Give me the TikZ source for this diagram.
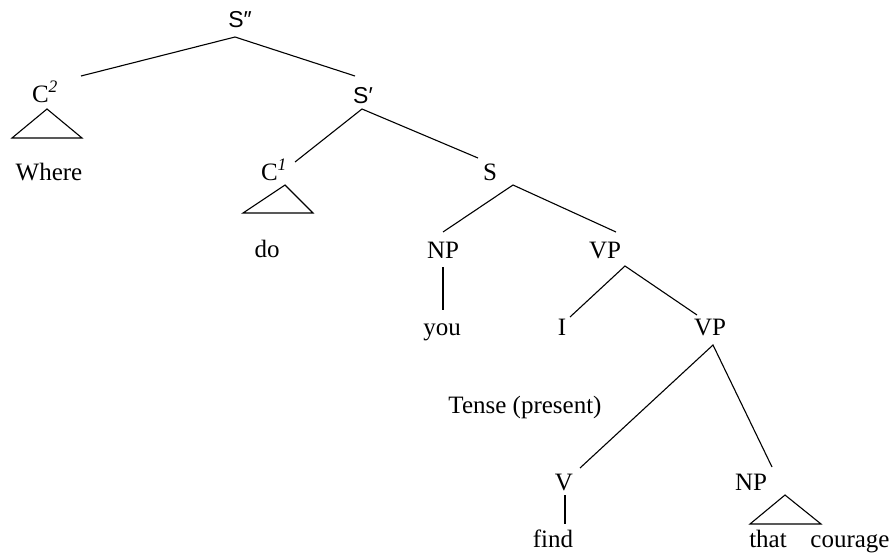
\documentclass[tikz,border=0pt]{standalone}
\usepackage{fontspec}
\setmainfont{Liberation Serif}
\newfontfamily\sansS{Liberation Sans}
\usepackage{tikz}

\begin{document}
\begin{tikzpicture}[x=1pt, y=1pt, line width=1.1pt,
    lbl/.style={anchor=base, inner sep=0pt, font=\fontsize{25}{30}\selectfont},
    slbl/.style={anchor=base, inner sep=0pt, font=\fontsize{23}{27}\selectfont\sansS}]
    \useasboundingbox (0, 0) rectangle (894, -552);

    \node [slbl] (Spp) at (240, -27) {S″};
    \node [lbl] (C2) at (45, -102) {C\textsuperscript{\itshape 2}};
    \node [lbl] (where) at (49, -180) {Where};
    \node [slbl] (Sp) at (363, -103) {S′};
    \node [lbl] (C1) at (274, -180) {C\textsuperscript{\itshape 1}};
    \node [lbl] (do) at (267, -257) {do};
    \node [lbl] (S) at (490, -180) {S};
    \node [lbl] (NP) at (443, -258) {NP};
    \node [lbl] (VP) at (605, -258) {VP};
    \node [lbl] (you) at (442, -335) {you};
    \node [lbl] (I) at (562, -335) {I};
    \node [lbl] (VPb) at (710, -335) {VP};
    \node [lbl] (tense) at (525, -413) {Tense (present)};
    \node [lbl] (V) at (564, -490) {V};
    \node [lbl] (NPb) at (751, -490) {NP};
    \node [lbl] (find) at (553, -547) {find};
    \node [lbl] (that) at (768, -547) {that};
    \node [lbl] (courage) at (850, -547) {courage};

    \draw ([shift={(36, 26)}]C2.base) -- ([shift={(-5, -10)}]Spp.base) -- ([shift={(-8, 27)}]Sp.base);
    \draw ([shift={(2, -7)}]C2.base) -- ++(-35, -29) -- ++(70, 0) -- cycle;

    \draw ([shift={(21, 18)}]C1.base) -- ([shift={(-1, -6)}]Sp.base) -- ([shift={(-12, 22)}]S.base);
    \draw ([shift={(11, -5)}]C1.base) -- ++(-42, -28) -- ++(70, 0) -- cycle;

    \draw ([shift={(0, 26)}]NP.base) -- ([shift={(23, -5)}]S.base) -- ([shift={(11, 26)}]VP.base);
    \draw ([shift={(0, -9)}]NP.base) -- ([shift={(1, 25)}]you.base);

    \draw ([shift={(8, 18)}]I.base) -- ([shift={(20, -8)}]VP.base) -- ([shift={(-13, 20)}]VPb.base);
    \draw ([shift={(16, 22)}]V.base) -- ([shift={(3, -10)}]VPb.base) -- ([shift={(21, 23)}]NPb.base);

    \draw ([shift={(1, -5)}]V.base) -- ([shift={(12, 23)}]find.base);
    \draw ([shift={(34, -5)}]NPb.base) -- ++(-35, -29) -- ++(71, 0) -- cycle;

  \end{tikzpicture}
\end{document}
